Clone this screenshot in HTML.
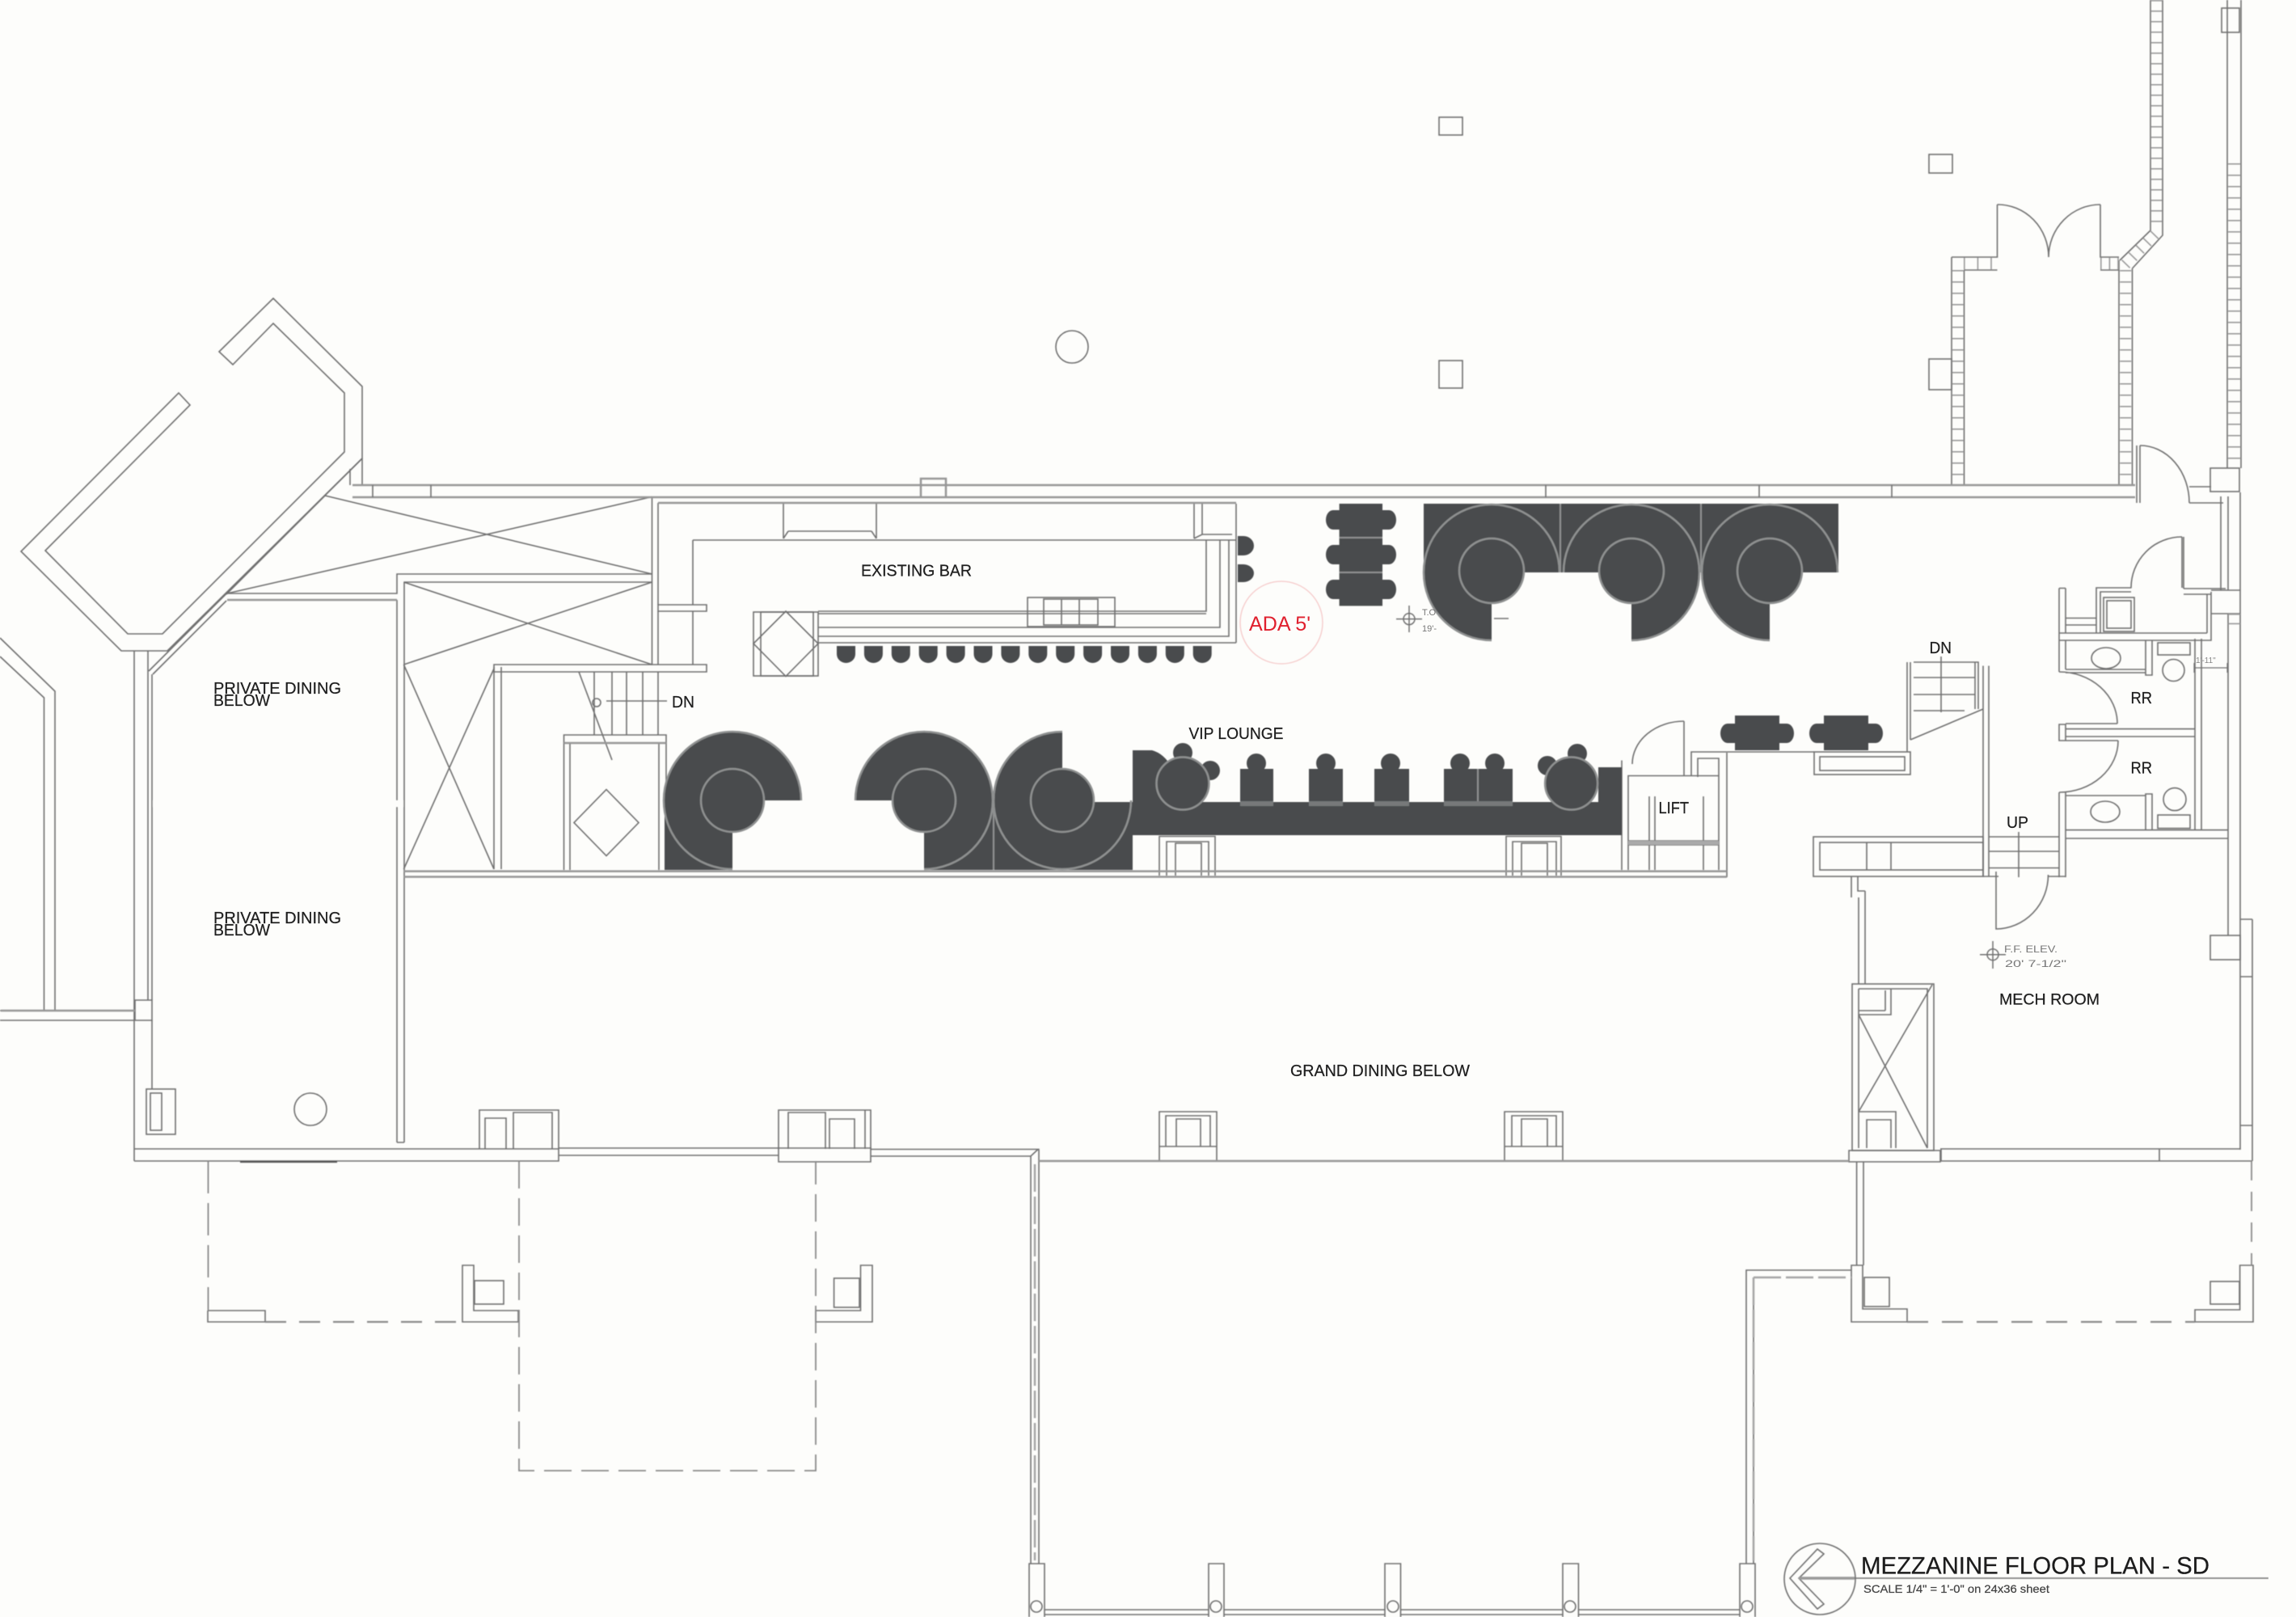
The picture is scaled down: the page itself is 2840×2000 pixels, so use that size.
<!DOCTYPE html>
<html><head><meta charset="utf-8"><title>Mezzanine Floor Plan</title>
<style>html,body{margin:0;padding:0;background:#fdfdfb}svg{display:block}text{font-family:"Liberation Sans",sans-serif;fill:#1f1f1f;stroke:#1f1f1f;stroke-width:.25}</style></head>
<body>
<svg xmlns="http://www.w3.org/2000/svg" width="2840" height="2000" viewBox="0 0 2840 2000">
<defs>
<filter id="b" x="0" y="0" width="100%" height="100%"><feGaussianBlur stdDeviation="0.5"/></filter>
<path id="st" d="M0,0H23V10A11.500,11 0 0 1 0,10Z" fill="#4a4c4d"/>
</defs>
<rect width="2840" height="2000" fill="#fdfdfb"/>
<g filter="url(#b)">
<!-- thin lines -->
<g fill="none" stroke="#707070" stroke-width="1.600">
<!-- left angled bay -->
<path d="M271,435L338,369L448,478V567L207,805H150L26,682L221,486L235,501L56,681L158,784H201L426,559V486L338,400L288,451Z"/>
<path d="M448,567L184,830M189,834L280,743M433,580V600M448,567V600M280,735L402,613"/>
<path d="M0,789L68,855V1250M0,812L54.500,863V1250"/>
<path d="M0,1250H167M0,1262H167M167,1237H188V1262H167Z"/>
<path d="M166,805V1436M183,805V1237M188,834V1237M188,1262V1347"/>
<!-- top objects -->
<rect x="1780" y="145" width="29" height="22"/><rect x="2386" y="191" width="29" height="23"/>
<rect x="1780" y="446" width="29" height="34"/><rect x="2386" y="444" width="28" height="38"/>
<circle cx="1326" cy="429" r="20"/>
<rect x="2748" y="10" width="22" height="30"/>
<!-- shafts -->
<path d="M402,613L806.500,710M806.500,614.500L281,734"/>
<path d="M499.400,720L806.500,822M806.500,720L499.400,822"/>
<path d="M499.400,822L611,1075M611,827L499.400,1075"/>
<path d="M281,734H491V710H806.500M281,742H491M499.400,720H806.500"/>
<path d="M806.500,615V822M814,622V748M814,756V822M814,831V909"/>
<path d="M491,742V1413M500,720V1413M491,1413H500"/>
<path d="M611,825V1075M620,825V1075"/>
<path d="M611,822H874V831H611ZM814,748H874V756H814Z"/>
<!-- left stair -->
<path d="M716,831L757,940M735,831V909M757,831V909M775,831V909M795,831V909"/>
<circle cx="738" cy="869" r="5"/><path d="M750,867H825"/>
<!-- elev box -->
<path d="M697.500,1076V909H824V1076M705,1076V919H815V1076M697.500,919H815"/>
<path d="M750,976.500L790,1017.500L750,1058.500L710,1017.500Z"/>
<!-- existing bar -->
<path d="M857,668H1529M857,668V748M857,756V822"/>
<path d="M969,666V623M1084,666V623M975,657H1078M969,666L975,657M1084,666L1078,657"/>
<path d="M1477,666V623M1529,795V623M1487,661V623M1477,666L1487,661H1524"/>
<path d="M1012,756H1492V668M1012,759H1492M1012,776H1509V668M1012,787H1520V668M1012,795H1529"/>
<rect x="1271" y="739" width="108" height="36"/><rect x="1291" y="741" width="67" height="32"/>
<path d="M1313,741V773M1335,741V773"/>
<rect x="932" y="757" width="80" height="79"/><rect x="941" y="757" width="65" height="79"/>
<path d="M972,756L1012,796L972,836.500L932,796Z"/>
<!-- band niches -->
<path d="M1434,1083V1034.500H1503V1083M1443,1083V1041H1495V1083M1454,1083V1043H1486V1083"/>
<path d="M1863,1083V1034.500H1931V1083M1871,1083V1041H1925V1083M1882,1083V1043H1914V1083"/>
<!-- lift -->
<path d="M2006,1076V940.500M2014,1076V959.500H2083V892M2014,959.500H2126V1076M2092,960V930H2135M2100,961V938H2126V961"/>
<path d="M2083,892A64,53 0 0 0 2019,945"/>
<path d="M2040,985V1076M2047,985V1076M2107,985V1076M2014,1040H2126M2014,1045H2126"/>
<path d="M2136,931V1085M2135,930H2244"/>
<rect x="2244" y="930" width="119" height="28"/><rect x="2251" y="936" width="105" height="17"/>
<!-- DN stair right -->
<path d="M2359,819V930M2363,819V915M2367,819H2447V877M2443,819V877M2367,838H2443M2367,859H2443M2367,879H2430"/>
<path d="M2363,915L2453,877M2401,812V881"/>
<path d="M2453,823.500V1084M2460,823.500V1084"/>
<rect x="2243" y="1035" width="210" height="49"/><rect x="2251" y="1042" width="202" height="34"/>
<path d="M2309,1042V1076M2339,1042V1076"/>
<path d="M2460,1035H2547M2460,1053H2547M2460,1073.500H2547M2497,1029V1085"/>
<path d="M2547,980V1085M2555,980V1085M2453,1084H2472M2533,1084H2555"/>
<path d="M2469,1078V1149A65,67 0 0 0 2533.500,1082"/>
<path d="M2290,1084V1110M2298,1084V1102H2307M2299,1110V1217M2307,1102V1217"/>
<!-- restrooms -->
<path d="M2547,727.500V831M2555,727.500V783M2555,792V828M2547,727.500H2555M2555,764.500H2593M2555,773H2593"/>
<path d="M2593,783V727H2636M2598,783V732H2636"/>
<rect x="2602" y="739" width="38" height="42"/><rect x="2606" y="743" width="30" height="34"/>
<path d="M2547,783H2730M2547,792H2735V732M2730,735V783"/>
<path d="M2699,727V664M2701,728V664M2636,727.500A63,63 0 0 1 2699,664"/>
<path d="M2701,728H2753M2701,735H2735M2735,730H2771M2735,759H2771"/>
<path d="M2747,614V730M2756,614V730"/>
<path d="M2555,828H2654M2555,832H2654M2654,792V835H2662V792M2547,831A72,64 0 0 1 2619,895"/>
<ellipse cx="2605" cy="814" rx="18" ry="13"/>
<rect x="2669" y="795" width="40" height="15"/><circle cx="2688.500" cy="829" r="13.500"/>
<path d="M2715,790V1027M2723,790V1027"/>
<path d="M2547,896H2555V916H2547ZM2555,895H2619M2555,916H2620M2555,901.600H2715M2555,911H2715"/>
<path d="M2547,980A73,64 0 0 0 2620,916"/>
<path d="M2555,984H2654M2654,1027V982H2662V1027"/>
<ellipse cx="2604" cy="1004" rx="18" ry="13"/>
<rect x="2669" y="1008" width="40" height="16.500"/><circle cx="2690" cy="988.600" r="14"/>
<path d="M2555,1026.600H2756M2555,1037H2756"/>
<path d="M2714,826H2755M2714,820V832M2755,820V832" stroke-width="1.200"/>
<!-- entry + right walls -->
<path d="M2643,551V622M2647,551V622M2647,551A61,71 0 0 1 2708,622"/>
<path d="M2708,622H2750M2708,602H2735"/>
<rect x="2734" y="579" width="36" height="29"/>
<path d="M2756,759V1157M2771,609V1422M2786,1137V1436M2771,1137H2786M2771,1208H2786M2771,1392H2786"/>
<rect x="2734" y="1157" width="37" height="30"/>
<path d="M2755,0V579M2772,0V579"/>
<!-- double door -->
<path d="M2470.500,253A63,65 0 0 1 2534,318M2598,253A64,65 0 0 0 2534,318"/>
<path d="M2414,318H2470.500V253M2429.500,334H2470.500M2598,253V318H2621M2598,334H2621"/>
<path d="M2414,318V599M2429.500,334V599M2621,322V599M2637.500,332V599"/>
<path d="M2622,322L2660,285V0M2637.500,332L2675,291V0"/>
<!-- elev shaft lower right -->
<rect x="2291" y="1217" width="101" height="206"/>
<path d="M2299,1223H2384V1420M2299,1223V1420"/>
<path d="M2299,1255L2384,1420M2390,1218L2299,1375"/>
<path d="M2299,1255H2339V1223M2332,1250V1225M2299,1250H2332"/>
<path d="M2299,1375H2345V1420M2309,1420V1385H2339V1420"/>
<!-- south bands -->
<path d="M2287,1423H2400V1437H2287Z"/>
<path d="M2400,1421H2771M1285,1436H2287M2400,1436H2786M2401,1421V1436M2671,1421V1436"/>
<path d="M2296.600,1437V1565M2305,1437V1565"/>
<path d="M2290,1565H2304V1619H2359V1635H2290Z"/>
<rect x="2306" y="1580" width="31" height="36"/>
<path d="M2787,1565H2770.600V1620H2715V1635H2787Z"/>
<rect x="2734" y="1585" width="36" height="28"/>
<path d="M2160,1934V1571H2290M2169,1934V1580"/>
<!-- south left -->
<path d="M166,1436H691V1421H166M691,1420H963M691,1429H963"/>
<path d="M963,1420H1077V1437H963ZM1077,1421.500H1284L1275,1430H1077M1275,1430V1934M1285,1421.500V1934"/>
<rect x="181" y="1347" width="36" height="56"/><rect x="186" y="1352" width="14" height="46"/>
<circle cx="384" cy="1372" r="20"/>
<path d="M593,1421V1373H691V1421M600,1421V1383H626V1421M635,1421V1376H683V1421"/>
<path d="M963,1421V1373H1077V1421M975,1421V1376H1021V1421M1026,1421V1384H1057V1421M1070,1373V1421"/>
<path d="M1434,1436V1375H1505V1436M1442,1418V1380H1497V1418M1455,1418V1384H1485V1418M1434,1418H1505"/>
<path d="M1861,1436V1375H1933V1436M1870,1418V1380H1925V1418M1882,1418V1384H1914V1418M1861,1418H1933"/>
<path d="M257,1621H328V1635H257V1621M572,1565H586V1621H641V1635H572Z"/>
<rect x="587" y="1584" width="36" height="29"/>
<path d="M1079,1565H1064.500V1621H1009V1635H1079Z"/>
<rect x="1031.600" y="1581" width="31.400" height="36"/>
<path d="M297,1437H417" stroke-width="2.200" stroke="#555"/>
<!-- posts -->
<path d="M1273,2000V1934H1292V2000M1495,2000V1934H1514V2000M1713,2000V1934H1732.500V2000M1933,2000V1934H1952.500V2000M2152,2000V1934H2171V2000"/>
<circle cx="1282" cy="1987" r="7"/><circle cx="1504" cy="1987" r="7"/><circle cx="1723" cy="1987" r="7"/><circle cx="1942" cy="1987" r="7"/><circle cx="2161" cy="1987" r="7"/>
<path d="M1292,1991H1495M1514,1991H1713M1732,1991H1933M1952,1991H2152M1292,1997H1495M1514,1997H1713M1732,1997H1933M1952,1997H2152"/>
<!-- north arrow + rule -->
<circle cx="2251" cy="1953" r="44"/>
<path d="M2214,1952L2248,1916L2256,1922L2225,1952L2256,1984L2248,1990Z"/>
<path d="M2294,1952H2806"/>
<path d="M2225,1952H2294" stroke-width="3.500" stroke="#999"/>
<!-- elevation symbols -->
<g stroke-width="1.500">
<circle cx="2465" cy="1180.700" r="7"/><path d="M2449,1180.700H2481M2465,1164V1198"/>
<circle cx="1743" cy="765.600" r="7"/><path d="M1727,765.600H1759M1743,749V782M1848,765H1866"/>
</g>
</g>
<!-- heavier wall lines -->
<g fill="none" stroke="#969696" stroke-width="2.500">
<path d="M436,600H2641M436,615H2641"/>
<path d="M1139,600V592H1170V600M1139,592V614M1170,592V614"/>
<path d="M814,622H1529"/>
<path d="M281,742H491M499,1077.600H2136M499,1084.500H2136"/>
<path d="M1,1250H167"/>
<path d="M1285,1436H2287"/>
<path d="M697.500,919H824"/>
<path d="M2014,1042.500H2126" stroke-width="5" stroke="#aaa"/>
</g>
<!-- ticks in walls -->
<g fill="none" stroke="#707070" stroke-width="1.600">
<path d="M461,600V615M533,600V615M1912,600V615M2176,600V615M2340,600V615"/>
</g>
<!-- brick walls -->
<g fill="none" stroke="#999">
<path d="M2421.700,334V599M2629.200,334V599" stroke-width="14" stroke-dasharray="1.600 12.400"/>
<path d="M2667.500,0V285" stroke-width="14" stroke-dasharray="1.600 11.400"/>
<path d="M2763.500,202V579" stroke-width="15" stroke-dasharray="1.600 12.400"/>
<path d="M2763.500,759V781" stroke-width="15" stroke-dasharray="1.600 10"/>
<path d="M2429,326H2470" stroke-width="15" stroke-dasharray="1.600 15"/>
<path d="M2598,326H2621" stroke-width="15" stroke-dasharray="1.600 9"/>
<path d="M2629,327L2667,288" stroke-width="14" stroke-dasharray="1.600 11"/>
</g>
<!-- dashed -->
<g fill="none" stroke="#8a8a8a" stroke-width="1.800">
<path d="M257.500,1436V1621" stroke-dasharray="40 12"/>
<path d="M328,1635H572" stroke-dasharray="26 16" stroke-width="2.200"/>
<path d="M642,1436V1819H1009V1436" stroke-dasharray="34 12"/>
<path d="M2359,1635H2715" stroke-dasharray="26 17" stroke-width="2.200"/>
<path d="M2785,1436V1565" stroke-dasharray="24 14"/>
<path d="M1280,1440V1930M2169,1580V1930M2169,1580H2290" stroke-dasharray="34 6" stroke="#a5a5a5" stroke-width="2.500"/>
</g>
<!-- dark furniture -->
<g fill="#4a4c4d" stroke="none">
<!-- upper booths -->
<rect x="1761" y="623" width="513" height="85"/>
<path d="M1761,708A84,84 0 0 0 1845,792V708Z"/><circle cx="1845" cy="706" r="41"/>
<path d="M2018,792A84,84 0 0 0 2102,708H2018Z"/><circle cx="2018" cy="706" r="41"/>
<path d="M2105,708A84,84 0 0 0 2189,792V708Z"/><circle cx="2189" cy="706" r="41"/>
<!-- 6 table -->
<rect x="1656.600" y="623" width="53.400" height="126.400"/>
<path d="M1657,631H1649A9,12 0 0 0 1649,655H1657ZM1657,674H1649A9,12 0 0 0 1649,698H1657ZM1657,717H1649A9,12 0 0 0 1649,741H1657Z"/>
<path d="M1710,631H1718A9,12 0 0 1 1718,655H1710ZM1710,674H1718A9,12 0 0 1 1718,698H1710ZM1710,717H1718A9,12 0 0 1 1718,741H1710Z"/>
<!-- bar chairs -->
<path d="M1531,663H1538A13,12 0 0 1 1538,687H1531ZM1531,698H1538A13,11 0 0 1 1538,720H1531Z"/>
<use href="#st" x="1035" y="799"/><use href="#st" x="1068.900" y="799"/><use href="#st" x="1102.800" y="799"/><use href="#st" x="1136.700" y="799"/><use href="#st" x="1170.600" y="799"/><use href="#st" x="1204.500" y="799"/><use href="#st" x="1238.400" y="799"/><use href="#st" x="1272.300" y="799"/><use href="#st" x="1306.200" y="799"/><use href="#st" x="1340.100" y="799"/><use href="#st" x="1374" y="799"/><use href="#st" x="1407.900" y="799"/><use href="#st" x="1441.800" y="799"/><use href="#st" x="1475.700" y="799"/>
<!-- left booths -->
<path d="M821,990A85,85 0 0 1 991,990Z"/><rect x="822" y="990" width="84" height="86"/><circle cx="906" cy="990" r="40"/>
<path d="M1058,990A85,85 0 0 1 1228,990Z"/><rect x="1143" y="990" width="86" height="86"/><circle cx="1143" cy="990" r="40"/>
<path d="M1230,990A85,85 0 0 1 1314,905V990Z"/><rect x="1230" y="990" width="84" height="86"/><rect x="1314" y="992" width="87" height="84"/><circle cx="1314" cy="990" r="40"/>
<!-- VIP band -->
<rect x="1401" y="992" width="605" height="41"/>
<path d="M1401,928H1425Q1440,932 1450,950V992H1401Z"/>
<rect x="1977" y="949" width="29" height="43"/>
<circle cx="1463" cy="969" r="33"/><circle cx="1943.600" cy="969" r="33"/>
<circle cx="1463" cy="931" r="12"/><circle cx="1497" cy="953" r="12"/><circle cx="1951" cy="932" r="12"/><circle cx="1914" cy="947" r="12"/>
<circle cx="1554" cy="944" r="12"/><circle cx="1640" cy="944" r="12"/><circle cx="1720" cy="944" r="12"/><circle cx="1806" cy="944" r="12"/><circle cx="1849" cy="944" r="12"/>
<rect x="1534" y="951" width="41" height="41"/><rect x="1619" y="951" width="42" height="41"/><rect x="1700" y="951" width="43" height="41"/><rect x="1786" y="951" width="85" height="41"/>
<!-- 2-top tables -->
<rect x="2146" y="885" width="55" height="43"/><rect x="2256" y="885" width="55" height="43"/>
<path d="M2146,895H2137A9,12 0 0 0 2137,919H2146ZM2201,895H2210A9,12 0 0 1 2210,919H2201ZM2256,895H2247A9,12 0 0 0 2247,919H2256ZM2311,895H2320A9,12 0 0 1 2320,919H2311Z"/>
</g>
<!-- lighter rings -->
<g fill="none" stroke="#8e9090" stroke-width="2.500">
<path d="M1845,792A84,84 0 1 1 1929,708M2018,792A84,84 0 1 0 1934,708M2189,792A84,84 0 1 1 2273,708"/>
<circle cx="1845" cy="706" r="40"/><circle cx="2018" cy="706" r="40"/><circle cx="2189" cy="706" r="40"/>
<path d="M906,1075A85,85 0 1 1 991,990M1143,1075A85,85 0 1 0 1058,990M1314,905A85,85 0 1 0 1399,990"/>
<circle cx="906" cy="990" r="39"/><circle cx="1143" cy="990" r="39"/><circle cx="1314" cy="990" r="39"/>
<circle cx="1463" cy="969" r="32.500"/><circle cx="1943.600" cy="969" r="32.500"/>
<path d="M1656.600,665H1710M1656.600,708H1710M1828,951V997M1930,623V708M2104,623V708M1229,990V1076" stroke-width="2"/>
<path d="M1534,994H1575M1619,994H1661M1700,994H1743M1786,994H1871" stroke-width="6" stroke="#77797a"/>
</g>
<!-- gap smudge -->
<rect x="189" y="990" width="310" height="8" fill="#fdfdfb"/>
<!-- ADA -->
<circle cx="1585" cy="770" r="51" fill="none" stroke="#f5c8c8" stroke-width="1.300"/>
</g>
<!-- text -->
<text x="264" y="858" font-size="20" textLength="158" lengthAdjust="spacingAndGlyphs">PRIVATE DINING</text>
<text x="264" y="873" font-size="20" textLength="70" lengthAdjust="spacingAndGlyphs">BELOW</text>
<text x="264" y="1142" font-size="20" textLength="158" lengthAdjust="spacingAndGlyphs">PRIVATE DINING</text>
<text x="264" y="1157" font-size="20" textLength="70" lengthAdjust="spacingAndGlyphs">BELOW</text>
<text x="831" y="875" font-size="20" textLength="28" lengthAdjust="spacingAndGlyphs">DN</text>
<text x="1065" y="712.500" font-size="20" textLength="137" lengthAdjust="spacingAndGlyphs">EXISTING BAR</text>
<text x="1470.500" y="914" font-size="20" textLength="117" lengthAdjust="spacingAndGlyphs">VIP LOUNGE</text>
<text x="1596" y="1331" font-size="20" textLength="222" lengthAdjust="spacingAndGlyphs">GRAND DINING BELOW</text>
<text x="2051.500" y="1006" font-size="20" textLength="37.500" lengthAdjust="spacingAndGlyphs">LIFT</text>
<text x="2386.500" y="808" font-size="20" textLength="27.500" lengthAdjust="spacingAndGlyphs">DN</text>
<text x="2482" y="1024" font-size="20" textLength="27" lengthAdjust="spacingAndGlyphs">UP</text>
<text x="2635.500" y="870" font-size="20" textLength="26.500" lengthAdjust="spacingAndGlyphs">RR</text>
<text x="2635.500" y="956.500" font-size="20" textLength="26.500" lengthAdjust="spacingAndGlyphs">RR</text>
<text x="2473" y="1242.500" font-size="19" textLength="124" lengthAdjust="spacingAndGlyphs">MECH ROOM</text>
<text x="2479" y="1178" font-size="12" textLength="66" lengthAdjust="spacingAndGlyphs" style="fill:#777;stroke:none">F.F.  ELEV.</text>
<text x="2480" y="1196" font-size="12" textLength="76" lengthAdjust="spacingAndGlyphs" style="fill:#777;stroke:none">20' 7-1/2"</text>
<text x="1759" y="761" font-size="11" style="fill:#777;stroke:none">T.O</text>
<text x="1759" y="781" font-size="11" style="fill:#777;stroke:none">19'-</text>
<text x="2716" y="820" font-size="10" style="fill:#888;stroke:none">1'-11"</text>
<text x="1545" y="780" font-size="25" textLength="76" lengthAdjust="spacingAndGlyphs" style="fill:#e0202e;stroke:none">ADA 5'</text>
<text x="2302" y="1946.500" font-size="30" textLength="431" lengthAdjust="spacingAndGlyphs" style="fill:#1c1c1c;stroke:#1c1c1c">MEZZANINE FLOOR PLAN - SD</text>
<text x="2305" y="1970" font-size="14" textLength="230" lengthAdjust="spacingAndGlyphs" style="fill:#444;stroke:#444">SCALE 1/4" = 1'-0" on 24x36 sheet</text>
</svg>
</body></html>
